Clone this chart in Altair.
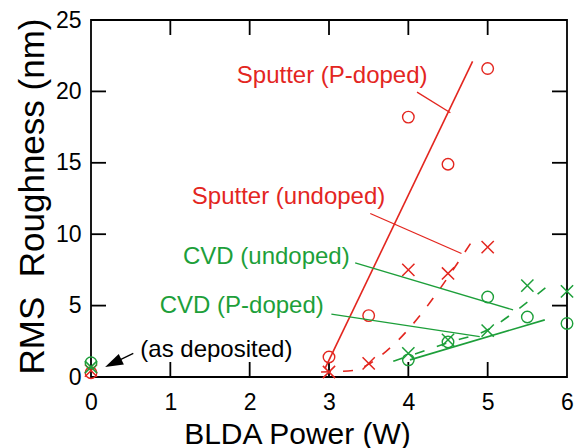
import altair as alt
import pandas as pd

RED = "#e3261f"
GREEN = "#1d9f3a"
FONT = "Liberation Sans"

# ---- data ----
sp_power = [0, 3, 3.5, 4, 4.5, 5]
sputter_p = [0.3, 1.4, 4.3, 18.2, 14.9, 21.6]        # red circles
sputter_un_power = [0, 3, 3.5, 4, 4.5, 5]
sputter_un = [0.45, 0.35, 0.95, 7.5, 7.25, 9.1]      # red crosses
cvd_power = [0, 4, 4.5, 5, 5.5, 6]
cvd_circ = [1.0, 1.2, 2.45, 5.6, 4.2, 3.75]          # green circles
cvd_cross = [0.7, 1.65, 2.6, 3.25, 6.4, 6.0]         # green crosses

# fit curves
fit_sp_p_x = [2.95, 4.81]
fit_sp_p_y = [0.6, 22.1]
fit_sp_un_x = [2.9, 3.3, 3.5, 3.72, 4.86]
fit_sp_un_y = [0.35, 0.45, 0.9, 1.8, 10.0]
fit_cvd_solid_x = [4.02, 5.72]
fit_cvd_solid_y = [1.2, 4.0]
fit_cvd_dash_x = [3.81, 4.5, 5.05, 5.3, 5.55, 5.83]
fit_cvd_dash_y = [1.1, 2.4, 3.45, 4.4, 5.45, 6.7]

# annotations (data coordinates)
labels = ["Sputter (P-doped)", "Sputter (undoped)", "CVD (undoped)", "CVD (P-doped)", "(as deposited)"]
label_x = [3.04, 2.49, 2.21, 1.9, 1.58]
label_y = [20.6, 12.1, 7.9, 4.45, 1.42]
label_col = [RED, RED, GREEN, GREEN, "black"]

leader_x = [4.11, 3.52, 3.33, 3.03, 0.533]
leader_y = [19.95, 11.45, 8.0, 4.4, 1.66]
leader_x2 = [4.53, 4.67, 5.32, 4.9, 0.28]
leader_y2 = [18.5, 8.65, 4.7, 2.82, 0.97]
leader_col = [RED, RED, GREEN, GREEN, "black"]

arrow_x = [0.28]
arrow_y = [0.97]

x_ticks = [0, 1, 2, 3, 4, 5, 6]
y_ticks = [0, 5, 10, 15, 20, 25]
inner_x_ticks = [1, 2, 3, 4, 5]
inner_y_ticks = [5, 10, 15, 20]

W, H = 476, 357

xs = alt.Scale(domain=[0, 6], nice=False, zero=False)
ys = alt.Scale(domain=[0, 25], nice=False, zero=False)

xaxis = alt.Axis(values=x_ticks, ticks=False, domain=False, grid=False, labelFont=FONT,
                 labelFontSize=23, labelColor="black", labelPadding=14, labelFlush=False,
                 title="BLDA Power (W)", titleFont=FONT, titleFontSize=30, titleFontWeight="normal",
                 titleColor="black", titleX=206, titleY=66, titleBaseline="alphabetic", titleAlign="center")
yaxis = alt.Axis(values=y_ticks, ticks=False, domain=False, grid=False, labelFont=FONT,
                 labelFontSize=23, labelColor="black", labelPadding=10, labelFlush=False,
                 title="RMS\u00a0 Roughness (nm)", titleFont=FONT, titleFontSize=35,
                 titleFontWeight="normal", titleColor="black", titleX=-48, titleY=176,
                 titleBaseline="alphabetic", titleAlign="center", titleAngle=270)


def pts(xv, yv):
    return pd.DataFrame({"x": xv, "y": yv})


def X(f="x:Q"):
    return alt.X(f, scale=xs, axis=xaxis)


def Y(f="y:Q"):
    return alt.Y(f, scale=ys, axis=yaxis)


tx = pd.DataFrame({"v": inner_x_ticks})
ty = pd.DataFrame({"v": inner_y_ticks})
tick_style = dict(color="black", strokeWidth=1.8)
ticks = [
    alt.Chart(tx).mark_rule(**tick_style).encode(x=X("v:Q"), y=alt.value(H), y2=alt.value(H - 15)),
    alt.Chart(tx).mark_rule(**tick_style).encode(x=X("v:Q"), y=alt.value(0), y2=alt.value(15)),
    alt.Chart(ty).mark_rule(**tick_style).encode(y=Y("v:Q"), x=alt.value(0), x2=alt.value(15)),
    alt.Chart(ty).mark_rule(**tick_style).encode(y=Y("v:Q"), x=alt.value(W), x2=alt.value(W - 15)),
]

fits = [
    alt.Chart(pts(fit_sp_p_x, fit_sp_p_y)).mark_line(color=RED, strokeWidth=1.6).encode(x=X(), y=Y()),
    alt.Chart(pts(fit_sp_un_x, fit_sp_un_y)).mark_line(color=RED, strokeWidth=1.6, strokeDash=[10, 12],
                                                      interpolate="monotone").encode(x=X(), y=Y()),
    alt.Chart(pts(fit_cvd_solid_x, fit_cvd_solid_y)).mark_line(color=GREEN, strokeWidth=1.6).encode(x=X(), y=Y()),
    alt.Chart(pts(fit_cvd_dash_x, fit_cvd_dash_y)).mark_line(color=GREEN, strokeWidth=1.6, strokeDash=[10, 13],
                                                            interpolate="monotone").encode(x=X(), y=Y()),
]

XSHAPE = "M-1,-1L1,1M-1,1L1,-1"
markers = [
    alt.Chart(pts(sp_power, sputter_p)).mark_point(shape="circle", filled=False, size=133, color=RED,
                                                   strokeWidth=1.4, opacity=1).encode(x=X(), y=Y()),
    alt.Chart(pts(sputter_un_power, sputter_un)).mark_point(shape=XSHAPE, filled=False, size=150, color=RED,
                                                            strokeWidth=1.5, opacity=1).encode(x=X(), y=Y()),
    alt.Chart(pts(cvd_power, cvd_circ)).mark_point(shape="circle", filled=False, size=133, color=GREEN,
                                                   strokeWidth=1.4, opacity=1).encode(x=X(), y=Y()),
    alt.Chart(pts(cvd_power, cvd_cross)).mark_point(shape=XSHAPE, filled=False, size=150, color=GREEN,
                                                    strokeWidth=1.5, opacity=1).encode(x=X(), y=Y()),
]

lead_df = pd.DataFrame({"x": leader_x, "y": leader_y, "x2": leader_x2, "y2": leader_y2, "c": leader_col})
leaders = alt.Chart(lead_df).mark_rule(strokeWidth=1.3).encode(
    x=X(), y=Y(), x2="x2:Q", y2="y2:Q", color=alt.Color("c:N", scale=None))

arrow = alt.Chart(pts(arrow_x, arrow_y)).mark_point(shape="M0,-1L0.65,1L-0.65,1Z", filled=True, size=324,
                                                    color="black", angle=244, opacity=1).encode(x=X(), y=Y())

lab_df = pd.DataFrame({"t": labels, "x": label_x, "y": label_y, "c": label_col})
texts = alt.Chart(lab_df).mark_text(font=FONT, fontSize=24, align="center", baseline="alphabetic").encode(
    x=X(), y=Y(), text="t:N", color=alt.Color("c:N", scale=None))

chart = alt.layer(*ticks, *fits, *markers, leaders, arrow, texts).properties(
    width=W, height=H, autosize=alt.AutoSizeParams(type="none"),
    padding={"left": 91, "top": 20, "right": 15, "bottom": 71},
).configure(background="white").configure_view(stroke="black", strokeWidth=1.8)

chart.save("out.html", embed_options={"renderer": "svg", "actions": False})
